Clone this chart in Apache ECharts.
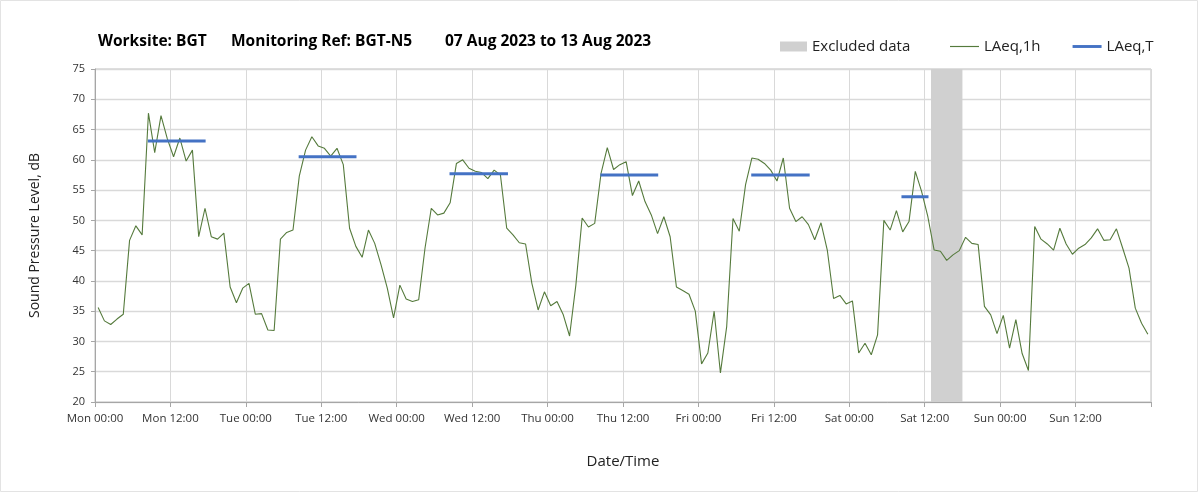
<!DOCTYPE html>
<html>
<head>
<meta charset="utf-8">
<script src="https://cdn.jsdelivr.net/npm/echarts@6/dist/echarts.min.js"></script>
<style>
html,body{margin:0;padding:0;background:#fff;}
#c{width:1203px;height:495px;}
</style>
</head>
<body>
<div id="c"></div>
<script>
// Hourly LAeq,1h values, Mon 00:00 .. Sun 23:00 (plotted at mid-hour)
var laeq1h = [
  35.6,33.4,32.8,33.7,34.5,46.7,49.1,47.6,67.7,61.2,67.3,63.5,60.5,63.6,59.8,61.6,47.3,52.0,47.3,46.9,47.9,39.0,36.4,38.8,
  39.6,34.5,34.6,31.9,31.8,46.9,48.0,48.4,57.3,61.6,63.8,62.3,61.9,60.6,61.9,59.2,48.7,45.7,43.9,48.4,46.2,42.7,38.8,33.9,
  39.3,37.0,36.6,36.9,45.4,52.0,50.9,51.2,52.9,59.4,60.0,58.6,58.1,57.9,56.9,58.3,57.5,48.7,47.6,46.3,46.1,39.6,35.2,38.2,
  35.9,36.6,34.4,30.9,39.3,50.4,48.9,49.5,57.7,62.0,58.4,59.2,59.7,54.1,56.5,53.1,50.9,47.8,50.6,47.3,39.0,38.4,37.8,35.0,
  26.3,28.1,35.0,24.8,32.5,50.3,48.2,55.9,60.3,60.1,59.4,58.3,56.5,60.3,52.0,49.8,50.6,49.3,46.8,49.6,45.1,37.1,37.6,36.2,
  36.7,28.1,29.7,27.8,31.1,50.0,48.4,51.6,48.1,49.8,58.1,54.8,50.6,45.1,44.9,43.4,44.3,45.0,47.2,46.2,46.0,35.8,34.4,31.3,
  34.3,28.9,33.6,28.0,25.2,49.0,46.9,46.1,45.1,48.7,46.1,44.4,45.4,46.0,47.1,48.6,46.7,46.8,48.6,45.4,42.1,35.5,33.0,31.2
];
// LAeq,T daytime periods (hours from Mon 00:00)
var tStart = [8.4, 32.4, 56.4, 80.4, 104.4, 128.3];
var tEnd   = [17.6, 41.6, 65.7, 89.6, 113.7, 132.6];
var tValue = [63.1, 60.5, 57.7, 57.5, 57.5, 53.9];
// Excluded data period (hours)
var excludedRange = [133, 138];
var dayNames = ['Mon','Tue','Wed','Thu','Fri','Sat','Sun'];
var titleParts = ['Worksite: BGT', 'Monitoring Ref: BGT-N5', '07 Aug 2023 to 13 Aug 2023'];

var lineData = laeq1h.map(function(v,i){ return [i+0.5, v]; });

var series = [
  {
    name:'Excluded data', type:'line', data:[], silent:true,
    itemStyle:{color:'#d0d0d0'},
    markArea:{ silent:true, itemStyle:{color:'#d0d0d0'},
      data:[[{xAxis:excludedRange[0]},{xAxis:excludedRange[1]}]] },
    z:1
  },
  {
    name:'LAeq,1h', type:'line', data:lineData, showSymbol:false, symbol:'none',
    lineStyle:{color:'#557a3c', width:1.1}, itemStyle:{color:'#557a3c'}, z:3
  }
];
for (var k=0;k<tStart.length;k++){
  series.push({
    name:'LAeq,T', type:'line', showSymbol:false, symbol:'none',
    data:[[tStart[k],tValue[k]],[tEnd[k],tValue[k]]],
    lineStyle:{color:'#4472c4', width:3}, itemStyle:{color:'#4472c4'}, z:4
  });
}

var titleStyle = {fontSize:15.5, fontWeight:'bold', color:'#000', fontFamily:'Open Sans'};
var titleLefts = [93, 226, 440];

var chart = echarts.init(document.getElementById('c'));
chart.setOption({
  animation:false,
  backgroundColor:'#fff',
  textStyle:{fontFamily:'Open Sans'},
  title: titleParts.map(function(t,i){ return {text:t, left:titleLefts[i], top:29, textStyle:titleStyle}; }),
  legend:[
    { data:[{name:'Excluded data', icon:'rect'}], left:775, top:34, itemWidth:27, itemHeight:10, itemGap:4,
      textStyle:{fontSize:15, color:'#222', fontFamily:'Open Sans'}, selectedMode:false },
    { data:[
        {name:'LAeq,1h', icon:'path://M0,0 L30,0 L30,1.2 L0,1.2 Z', itemStyle:{color:'#557a3c'}},
        {name:'LAeq,T', icon:'path://M0,0 L30,0 L30,3 L0,3 Z', itemStyle:{color:'#4472c4'}}
      ],
      left:945, top:34, itemWidth:29, itemHeight:12, itemGap:32, symbolKeepAspect:true,
      textStyle:{fontSize:15, color:'#222', fontFamily:'Open Sans'}, selectedMode:false }
  ],
  grid:{ left:95, top:69, width:1056, height:333, show:true, borderColor:'#bfbfbf', borderWidth:1 },
  xAxis:{
    type:'value', min:0, max:168, interval:12,
    name:'Date/Time', nameLocation:'middle', nameGap:52,
    nameTextStyle:{fontSize:15, color:'#222'},
    axisLine:{show:true, lineStyle:{color:'#a6a6a6'}},
    axisTick:{show:true, length:5, lineStyle:{color:'#a6a6a6'}},
    splitLine:{show:true, lineStyle:{color:'#d9d9d9'}},
    axisLabel:{ fontSize:11.5, color:'#333', margin:11,
      formatter:function(v){
        if (v>=168) return '';
        var d = Math.floor(v/24), h = v%24;
        return dayNames[d] + ' ' + (h<10?'0':'') + h + ':00';
      }
    }
  },
  yAxis:{
    type:'value', min:20, max:75, interval:5,
    name:'Sound Pressure Level, dB', nameLocation:'middle', nameGap:53,
    nameTextStyle:{fontSize:14, color:'#222'},
    axisLine:{show:true, lineStyle:{color:'#a6a6a6'}},
    axisTick:{show:true, length:4, lineStyle:{color:'#a6a6a6'}},
    splitLine:{show:true, lineStyle:{color:'#d9d9d9', width:1.3}},
    axisLabel:{fontSize:11, color:'#333', margin:10}
  },
  graphic:[{ type:'rect', shape:{x:0.5,y:0.5,width:1197,height:491}, style:{fill:null, stroke:'#e3e3e3', lineWidth:1}, silent:true, z:-1 }],
  series:series
});
</script>
</body>
</html>
